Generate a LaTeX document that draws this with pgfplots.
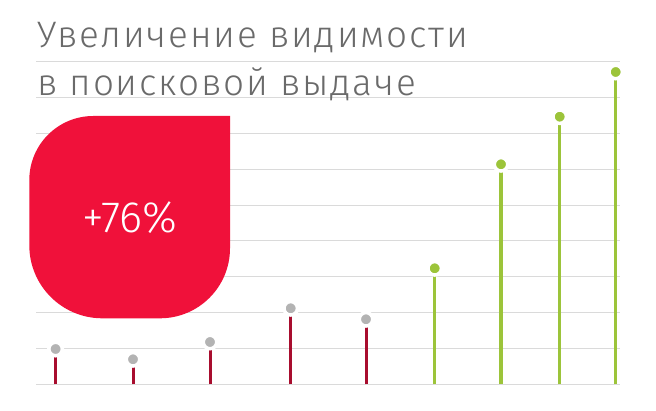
\documentclass[border=0pt]{standalone}
\usepackage{fontspec}
\setmainfont{Fira Sans Light}
\usepackage{pgfplots}
\pgfplotsset{compat=1.18}

\definecolor{blobred}{HTML}{F0113A}
\definecolor{stemred}{HTML}{A80D2E}
\definecolor{stemgreen}{HTML}{9CC43A}
\definecolor{dotgrey}{HTML}{B3B3B3}
\definecolor{gridgrey}{HTML}{DADADA}
\definecolor{titlegrey}{HTML}{6A6A6A}

\begin{document}
\begin{tikzpicture}
  \begin{axis}[
      scale only axis, width=656bp, height=411bp,
      xmin=0, xmax=656, ymin=-26.7, ymax=384.3,
      axis lines=none, clip=false]

    % keep the whole canvas in the bounding box
    \path (rel axis cs:0,0) (rel axis cs:1,1);

    % horizontal guide lines, 35.85 px apart
    \pgfplotsinvokeforeach{0,...,9}{
      \addplot[gridgrey, line width=1bp, forget plot]
        coordinates {(36,#1*35.85) (620,#1*35.85)};
    }

    % before (red) and after (green) stems
    \addplot[ycomb, stemred, line width=3bp]
      coordinates {(55.6,35.3) (133,25) (210,42.3) (290.7,76) (366,65)};
    \addplot[ycomb, stemgreen, line width=3.5bp]
      coordinates {(434.7,116) (501,220) (559.7,267.6) (615.7,312.3)};

    % dots with a white halo
    \addplot[only marks, mark=*, mark size=6.75bp,
      mark options={fill=dotgrey, draw=white, line width=3.5bp}]
      coordinates {(55.6,35.3) (133,25) (210,42.3) (290.7,76) (366,65)};
    \addplot[only marks, mark=*, mark size=6.75bp,
      mark options={fill=stemgreen, draw=white, line width=3.5bp}]
      coordinates {(434.7,116) (501,220) (559.7,267.6) (615.7,312.3)};

    % red badge
    \fill[blobred] (230,268.3) -- (93.3,268.3)
      arc[start angle=90, end angle=180, radius=64bp] -- (29.3,139)
      arc[start angle=180, end angle=270, radius=73bp] -- (160,66)
      arc[start angle=270, end angle=360, radius=70bp] -- cycle;
    \node[text=white, font=\fontsize{44}{44}\selectfont, inner sep=0]
      at (130,166.3) {+76\%};

    % title
    \node[anchor=base west, inner sep=0, text=titlegrey,
      font=\fontsize{37}{37}\selectfont\addfontfeatures{LetterSpace=5}]
      at (37,336.3) {Увеличение видимости};
    \node[anchor=base west, inner sep=0, text=titlegrey,
      font=\fontsize{37}{37}\selectfont\addfontfeatures{LetterSpace=5}]
      at (37,288.3) {в поисковой выдаче};
  \end{axis}
\end{tikzpicture}
\end{document}
